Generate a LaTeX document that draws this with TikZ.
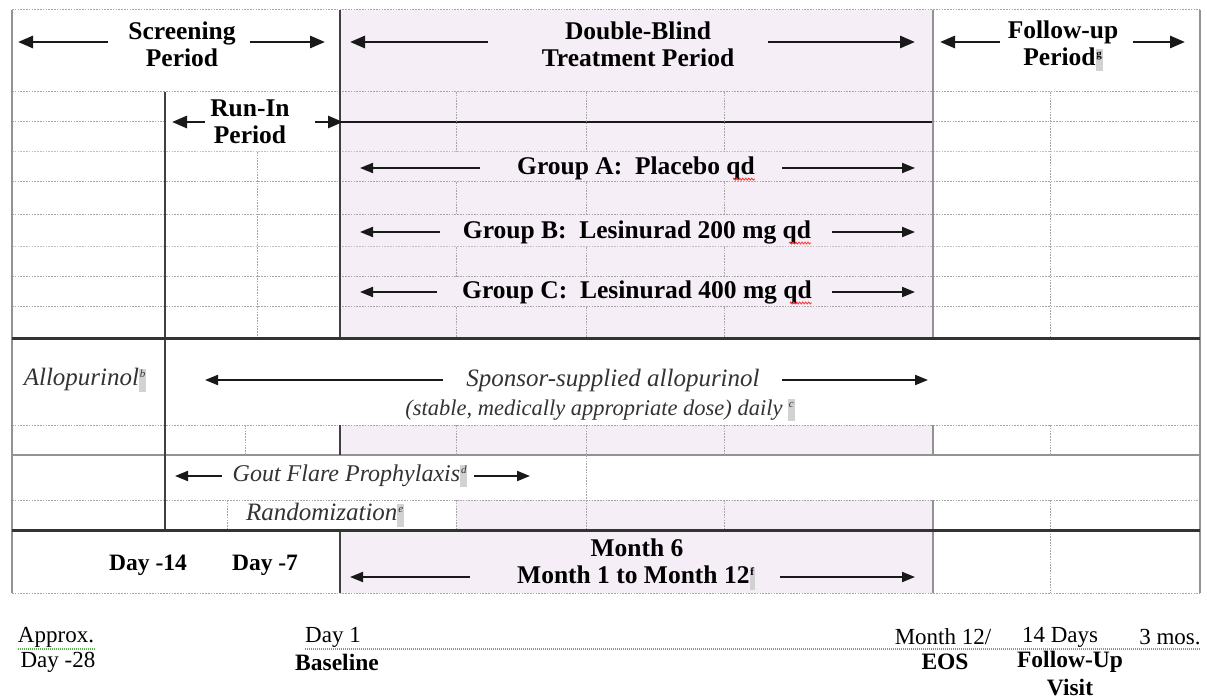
\documentclass[tikz,border=0pt]{standalone}
\usepackage{fontspec}
\setmainfont{Liberation Serif}
\usetikzlibrary{arrows.meta,decorations.pathmorphing}
\definecolor{pinkbg}{RGB}{246,238,246}
\definecolor{spellgreen}{RGB}{100,175,90}
\newcommand\fnbox[1]{{\setlength{\fboxsep}{0.8pt}\colorbox{gray!35}{\rule[-5pt]{0pt}{21pt}\raisebox{8pt}{\fontsize{11}{11}\selectfont #1}}}}
\begin{document}
\begin{tikzpicture}[x=1pt,y=-1pt,
 grid/.style={gray!70,line width=1pt,dash pattern=on 1.6pt off 1.2pt},
 gridl/.style={gray!50,line width=1pt,dash pattern=on 1.6pt off 1.2pt},
 rule/.style={black!75,line width=1.8pt},
 border/.style={gray!85,line width=1.4pt},
 heavy/.style={black!80,line width=3pt},
 arr/.style={-{Triangle[length=15pt,width=12pt]},line width=2.8pt,black!90},
 arrs/.style={-{Triangle[length=13pt,width=10pt]},line width=2pt,black!90},
 bt/.style={font=\fontsize{25.5}{27}\selectfont\bfseries,align=center,inner sep=0pt},
 it/.style={font=\fontsize{25}{27}\selectfont\itshape,inner sep=0pt,text=black!80},
 rt/.style={font=\fontsize{23}{25}\selectfont,inner sep=0pt},
 rb/.style={font=\fontsize{23.5}{25}\selectfont\bfseries,inner sep=0pt},
 squig/.style={red!80,line width=0.8pt,decorate,decoration={zigzag,amplitude=1pt,segment length=3pt}},
 spell/.style={spellgreen,line width=1.1pt,dash pattern=on 1pt off 1pt},
]
\useasboundingbox (0,0) rectangle (1207,700);
\fill[white] (0,0) rectangle (1207,700);
% pink treatment area
\fill[pinkbg] (340,10) rectangle (933,339);
\fill[pinkbg] (340,425) rectangle (933,455);
\fill[pinkbg] (456,500) rectangle (933,530);
\fill[pinkbg] (340,530) rectangle (933,593);
% horizontal grid lines
\foreach \y in {10,92,182,215,277,307,425,500,593} \draw[grid] (12,\y) -- (1200,\y);
\foreach \y in {152,247} \draw[gridl] (12,\y) -- (1200,\y);
\draw[grid] (12,122) -- (165,122);
\draw[grid] (933,122) -- (1200,122);
\draw[rule,black!90] (340,122) -- (933,122);
\draw[border] (12,455) -- (1200,455);
% vertical dotted lines
\draw[grid] (257,152) -- (257,338);
\draw[grid] (1050,92) -- (1050,338);
\foreach \x in {456,586,724}{
  \draw[grid] (\x,92) -- (\x,152);
  \draw[grid] (\x,182) -- (\x,215);
  \draw[grid] (\x,247) -- (\x,277);
  \draw[grid] (\x,307) -- (\x,338);
  \draw[grid] (\x,425) -- (\x,455);
  \draw[grid] (\x,500) -- (\x,530);
}
\draw[grid] (586,455) -- (586,500);
\draw[grid] (245,425) -- (245,455);
\draw[grid] (227,500) -- (227,530);
\draw[grid] (1050,425) -- (1050,455);
\draw[grid] (1050,500) -- (1050,593);
% solid verticals
\draw[border] (12,10) -- (12,593);
\draw[border] (1200,10) -- (1200,593);
\draw[rule] (165,92) -- (165,530);
\draw[rule] (340,10) -- (340,339);
\draw[rule] (340,425) -- (340,455);
\draw[rule] (340,530) -- (340,593);
\draw[border] (933,10) -- (933,339);
\draw[border] (933,425) -- (933,455);
\draw[border] (933,500) -- (933,593);
% heavy rules
\draw[heavy] (12,339) -- (1200,339);
\draw[heavy] (12,530) -- (1200,530);

% header texts
\node[bt] (scr) at (182,44) {Screening\\Period};
\node[bt] (dbt) at (638,44) {Double-Blind\\Treatment Period};
\node[bt] (fup) at (1063,46) {Follow-up\\Period\fnbox{g}};
\node[bt] (run) at (250,122) {Run-In\\Period};
\node[bt] (ga) at (636,168) {Group A:\ \ Placebo qd};
\node[bt] (gb) at (637,232) {Group B:\ \ Lesinurad 200 mg qd};
\node[bt] (gc) at (637,292) {Group C:\ \ Lesinurad 400 mg qd};
\node[it] (allo) at (85,380) {Allopurinol\fnbox{b}};
\node[it] (spon) at (613,380) {Sponsor-supplied allopurinol};
\node[it,font=\fontsize{22.5}{24}\selectfont\itshape] (stab) at (600,410) {(stable, medically appropriate dose) daily \fnbox{c}};
\node[it,font=\fontsize{24}{26}\selectfont\itshape] (gout) at (350,476) {Gout Flare Prophylaxis\fnbox{d}};
\node[it] (rand) at (325,515) {Randomization\fnbox{e}};
\node[bt] (m6) at (637,548) {Month 6};
\node[bt] (m12) at (636,578) {Month 1 to Month 12\fnbox{f}};
\node[rb] (d14) at (148,565) {Day -14};
\node[rb] (d7) at (265,565) {Day -7};
% bottom labels
\node[rt] (apx) at (56,637) {Approx.};
\node[rt] (d28) at (58,662) {Day -28};
\node[rt] (d1) at (333,637) {Day 1};
\node[rb] (base) at (337,662) {Baseline};
\node[rt] (m12e) at (943,637) {Month 12/};
\node[rb] (eos) at (945,662) {EOS};
\node[rt] (days) at (1060,637) {14 Days};
\node[rb] (fuv) at (1070,662) {Follow-Up};
\node[rb] (vis) at (1070,688) {Visit};
\node[rt] (mos) at (1170,637) {3 mos.};
\draw[spell] (18,649) -- (95,649);
\draw[spell] (305,649) -- (1200,649);
% spell-check squiggles under qd
\draw[squig] ([shift={(-22,5)}]ga.base east) -- ([shift={(0,5)}]ga.base east);
\draw[squig] ([shift={(-22,5)}]gb.base east) -- ([shift={(0,5)}]gb.base east);
\draw[squig] ([shift={(-22,5)}]gc.base east) -- ([shift={(0,5)}]gc.base east);

% arrow coordinates
\coordinate (scrL0) at (108,42); \coordinate (scrL1) at (18,42);
\coordinate (scrR0) at (250,42); \coordinate (scrR1) at (325,42);
\coordinate (dbtL0) at (488,42); \coordinate (dbtL1) at (350,42);
\coordinate (dbtR0) at (768,42); \coordinate (dbtR1) at (915,42);
\coordinate (fupL0) at (1000,42); \coordinate (fupL1) at (940,42);
\coordinate (fupR0) at (1133,42); \coordinate (fupR1) at (1185,42);
\coordinate (runL0) at (205,122); \coordinate (runL1) at (172,122);
\coordinate (runR0) at (315,122); \coordinate (runR1) at (343,122);
\coordinate (gaL0) at (480,168); \coordinate (gaL1) at (360,168);
\coordinate (gaR0) at (782,168); \coordinate (gaR1) at (915,168);
\coordinate (gbL0) at (440,232); \coordinate (gbL1) at (360,232);
\coordinate (gbR0) at (832,232); \coordinate (gbR1) at (915,232);
\coordinate (gcL0) at (437,292); \coordinate (gcL1) at (360,292);
\coordinate (gcR0) at (832,292); \coordinate (gcR1) at (915,292);
\coordinate (spL0) at (443,380); \coordinate (spL1) at (205,380);
\coordinate (spR0) at (782,380); \coordinate (spR1) at (928,380);
\coordinate (goL0) at (222,476); \coordinate (goL1) at (175,476);
\coordinate (goR0) at (474,476); \coordinate (goR1) at (530,476);
\coordinate (mL0) at (470,577); \coordinate (mL1) at (350,577);
\coordinate (mR0) at (780,577); \coordinate (mR1) at (915,577);
\draw[arr] (scrL0) -- (scrL1);
\draw[arr] (scrR0) -- (scrR1);
\draw[arr] (dbtL0) -- (dbtL1);
\draw[arr] (dbtR0) -- (dbtR1);
\draw[arr] (fupL0) -- (fupL1);
\draw[arr] (fupR0) -- (fupR1);
\draw[arr] (runL0) -- (runL1);
\draw[arr] (runR0) -- (runR1);
\draw[arrs] (gaL0) -- (gaL1);
\draw[arrs] (gaR0) -- (gaR1);
\draw[arrs] (gbL0) -- (gbL1);
\draw[arrs] (gbR0) -- (gbR1);
\draw[arrs] (gcL0) -- (gcL1);
\draw[arrs] (gcR0) -- (gcR1);
\draw[arrs] (spL0) -- (spL1);
\draw[arrs] (spR0) -- (spR1);
\draw[arrs] (goL0) -- (goL1);
\draw[arrs] (goR0) -- (goR1);
\draw[arrs] (mL0) -- (mL1);
\draw[arrs] (mR0) -- (mR1);
\end{tikzpicture}
\end{document}
